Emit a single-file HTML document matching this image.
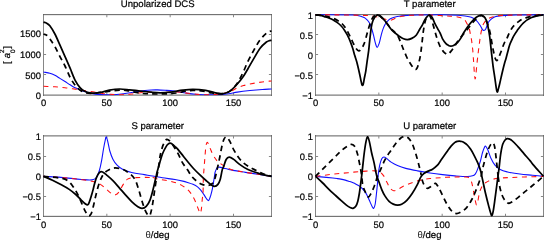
<!DOCTYPE html>
<html lang="en"><head><meta charset="utf-8"><title>Scattering parameters</title>
<style>html,body{margin:0;padding:0;background:#fff;overflow:hidden}svg{display:block}</style>
</head><body>
<svg width="544" height="240" viewBox="0 0 544 240">
<rect width="544" height="240" fill="#fff"/>
<defs>
<clipPath id="c1"><rect x="43.00" y="14.00" width="229.00" height="81.50"/></clipPath>
<clipPath id="c2"><rect x="315.00" y="14.00" width="229.00" height="81.50"/></clipPath>
<clipPath id="c3"><rect x="43.00" y="136.00" width="229.00" height="81.50"/></clipPath>
<clipPath id="c4"><rect x="315.00" y="136.00" width="229.00" height="81.50"/></clipPath>
</defs>
<g stroke="#868686" stroke-width="1" fill="none">
<path d="M43.50 14.15V95.60M271.50 14.15V95.60" shape-rendering="crispEdges"/>
<path d="M43.00 14.65H272.00M43.00 95.10H272.00" stroke="#5c5c5c"/>
</g>
<g stroke="#868686" stroke-width="1" fill="none">
<path d="M106.83 14.65v2.6M106.83 95.10v-2.6"/>
<path d="M170.17 14.65v2.6M170.17 95.10v-2.6"/>
<path d="M233.50 14.65v2.6M233.50 95.10v-2.6"/>
<path d="M43.50 74.50h2.6M271.50 74.50h-2.6"/>
<path d="M43.50 54.50h2.6M271.50 54.50h-2.6"/>
<path d="M43.50 34.50h2.6M271.50 34.50h-2.6"/>
</g>
<g stroke="#868686" stroke-width="1" fill="none">
<path d="M315.50 14.15V95.60M543.50 14.15V95.60" shape-rendering="crispEdges"/>
<path d="M315.00 14.65H544.00M315.00 95.10H544.00" stroke="#5c5c5c"/>
</g>
<g stroke="#868686" stroke-width="1" fill="none">
<path d="M378.83 14.65v2.6M378.83 95.10v-2.6"/>
<path d="M442.17 14.65v2.6M442.17 95.10v-2.6"/>
<path d="M505.50 14.65v2.6M505.50 95.10v-2.6"/>
<path d="M315.50 74.50h2.6M543.50 74.50h-2.6"/>
<path d="M315.50 54.50h2.6M543.50 54.50h-2.6"/>
<path d="M315.50 34.50h2.6M543.50 34.50h-2.6"/>
</g>
<g stroke="#868686" stroke-width="1" fill="none">
<path d="M43.50 135.40V216.85M271.50 135.40V216.85" shape-rendering="crispEdges"/>
<path d="M43.00 135.90H272.00M43.00 216.35H272.00" stroke="#5c5c5c"/>
</g>
<g stroke="#868686" stroke-width="1" fill="none">
<path d="M106.83 135.90v2.6M106.83 216.35v-2.6"/>
<path d="M170.17 135.90v2.6M170.17 216.35v-2.6"/>
<path d="M233.50 135.90v2.6M233.50 216.35v-2.6"/>
<path d="M43.50 196.50h2.6M271.50 196.50h-2.6"/>
<path d="M43.50 176.50h2.6M271.50 176.50h-2.6"/>
<path d="M43.50 156.50h2.6M271.50 156.50h-2.6"/>
</g>
<g stroke="#868686" stroke-width="1" fill="none">
<path d="M315.50 135.40V216.85M543.50 135.40V216.85" shape-rendering="crispEdges"/>
<path d="M315.00 135.90H544.00M315.00 216.35H544.00" stroke="#5c5c5c"/>
</g>
<g stroke="#868686" stroke-width="1" fill="none">
<path d="M378.83 135.90v2.6M378.83 216.35v-2.6"/>
<path d="M442.17 135.90v2.6M442.17 216.35v-2.6"/>
<path d="M505.50 135.90v2.6M505.50 216.35v-2.6"/>
<path d="M315.50 196.50h2.6M543.50 196.50h-2.6"/>
<path d="M315.50 176.50h2.6M543.50 176.50h-2.6"/>
<path d="M315.50 156.50h2.6M543.50 156.50h-2.6"/>
</g>
<g clip-path="url(#c1)" fill="none" stroke-linejoin="round">
<path d="M43.50 72.04 C45.61 72.43 47.72 72.59 49.83 73.20 C51.52 73.69 53.21 74.45 54.90 75.32 C56.59 76.19 58.28 77.36 59.97 78.40 C61.66 79.44 63.34 80.49 65.03 81.56 C66.72 82.63 68.41 83.76 70.10 84.80 C71.79 85.84 73.48 86.95 75.17 87.80 C76.86 88.65 78.54 89.27 80.23 89.92 C81.92 90.57 83.61 91.15 85.30 91.68 C86.99 92.21 88.68 92.71 90.37 93.12 C92.06 93.53 93.74 93.87 95.43 94.12 C97.12 94.37 98.81 94.54 100.50 94.64 C102.61 94.77 104.72 94.79 106.83 94.80 C108.94 94.81 111.06 94.78 113.17 94.68 C115.28 94.58 117.39 94.43 119.50 94.20 C122.46 93.87 125.41 93.44 128.37 93.00 C131.32 92.56 134.28 92.01 137.23 91.56 C139.77 91.17 142.30 90.76 144.83 90.48 C146.94 90.24 149.06 90.09 151.17 90.00 C153.28 89.91 155.39 89.87 157.50 89.92 C160.03 89.98 162.57 90.15 165.10 90.32 C167.63 90.49 170.17 90.61 172.70 90.92 C175.23 91.23 177.77 91.79 180.30 92.20 C182.83 92.61 185.37 93.06 187.90 93.40 C190.43 93.74 192.97 94.03 195.50 94.24 C198.03 94.45 200.57 94.57 203.10 94.68 C204.79 94.75 206.48 94.78 208.17 94.80 C210.28 94.82 212.39 94.83 214.50 94.80 C216.61 94.77 218.72 94.75 220.83 94.60 C223.37 94.42 225.90 94.18 228.43 93.80 C231.39 93.36 234.34 92.60 237.30 92.16 C241.52 91.52 245.74 91.02 249.97 90.56 C254.06 90.11 258.16 89.73 262.25 89.44 C265.34 89.22 268.42 89.17 271.50 89.04" stroke="#1010ff" stroke-width="1.1"/>
<path d="M43.50 86.32 C47.30 86.48 51.10 86.55 54.90 86.80 C58.28 87.02 61.66 87.34 65.03 87.72 C67.57 88.01 70.10 88.43 72.63 88.80 C76.86 89.42 81.08 90.05 85.30 90.68 C87.83 91.06 90.37 91.43 92.90 91.84 C96.11 92.35 99.32 92.99 102.53 93.44 C105.23 93.82 107.93 94.10 110.63 94.32 C112.74 94.50 114.86 94.57 116.97 94.64 C118.66 94.69 120.34 94.71 122.03 94.68 C123.72 94.65 125.41 94.61 127.10 94.48 C128.66 94.36 130.22 94.13 131.79 93.92 C133.18 93.73 134.57 93.47 135.97 93.28 C137.44 93.07 138.92 92.87 140.40 92.72 C141.88 92.57 143.36 92.47 144.83 92.40 C146.94 92.31 149.06 92.22 151.17 92.24 C154.12 92.27 157.08 92.53 160.03 92.56 C162.14 92.58 164.26 92.48 166.37 92.40 C168.48 92.32 170.59 92.17 172.70 92.08 C174.39 92.01 176.08 91.90 177.77 91.92 C178.95 91.94 180.13 92.04 181.31 92.20 C183.51 92.49 185.70 92.97 187.90 93.28 C189.42 93.49 190.94 93.59 192.46 93.76 C194.32 93.97 196.18 94.24 198.03 94.40 C199.72 94.55 201.41 94.60 203.10 94.68 C204.37 94.74 205.63 94.81 206.90 94.80 C208.59 94.79 210.28 94.73 211.97 94.64 C213.66 94.55 215.34 94.42 217.03 94.24 C219.14 94.02 221.26 93.90 223.37 93.44 C225.90 92.89 228.43 92.23 230.97 91.20 C233.08 90.35 235.19 88.73 237.30 87.80 C239.41 86.87 241.52 86.23 243.63 85.60 C245.74 84.97 247.86 84.46 249.97 84.04 C254.06 83.23 258.16 82.51 262.25 81.92 C265.34 81.47 268.42 81.25 271.50 80.92" stroke="#ff1010" stroke-width="1.08" stroke-dasharray="4.9 4.6"/>
<path d="M43.50 22.20 C44.56 22.53 45.61 22.60 46.67 23.20 C47.72 23.80 48.78 24.42 49.83 25.80 C51.52 28.02 53.21 30.77 54.90 34.00 C56.59 37.23 58.28 41.43 59.97 45.20 C61.66 48.97 63.34 52.77 65.03 56.60 C66.72 60.43 68.41 64.25 70.10 68.20 C71.79 72.15 73.48 77.05 75.17 80.32 C76.86 83.59 78.54 85.93 80.23 87.80 C81.92 89.67 83.61 90.69 85.30 91.56 C86.99 92.43 88.68 92.69 90.37 93.00 C91.63 93.23 92.90 93.28 94.17 93.20 C96.28 93.08 98.39 92.82 100.50 92.40 C103.46 91.82 106.41 90.73 109.37 90.20 C112.74 89.60 116.12 89.07 119.50 89.00 C122.88 88.93 126.26 89.48 129.63 89.80 C132.59 90.08 135.54 90.47 138.50 90.80 C142.72 91.27 146.94 91.81 151.17 92.20 C154.12 92.47 157.08 92.80 160.03 92.80 C163.41 92.80 166.79 92.59 170.17 92.20 C174.39 91.72 178.61 90.72 182.83 90.20 C186.21 89.79 189.59 89.37 192.97 89.40 C197.19 89.44 201.41 89.77 205.63 90.40 C208.59 90.84 211.54 91.96 214.50 92.60 C216.61 93.06 218.72 93.61 220.83 93.68 C222.52 93.74 224.21 93.56 225.90 93.00 C227.59 92.44 229.28 91.65 230.97 90.32 C233.08 88.66 235.19 86.43 237.30 84.04 C239.41 81.65 241.52 79.02 243.63 76.00 C244.98 74.07 246.34 71.52 247.69 69.20 C249.71 65.72 251.74 62.03 253.77 58.60 C255.88 55.03 257.99 50.97 260.10 48.20 C262.21 45.43 264.32 43.69 266.43 42.00 C267.49 41.16 268.54 40.95 269.60 40.60 C270.23 40.39 270.87 40.41 271.50 40.32" stroke="#000" stroke-width="1.74"/>
<path d="M43.50 34.00 C44.56 34.40 45.61 34.37 46.67 35.20 C47.72 36.03 48.78 37.54 49.83 39.00 C51.52 41.34 53.21 43.67 54.90 46.60 C56.59 49.53 58.28 53.37 59.97 56.60 C61.66 59.83 63.34 62.55 65.03 66.00 C66.72 69.45 68.41 74.10 70.10 77.32 C71.79 80.54 73.48 83.15 75.17 85.32 C76.86 87.49 78.54 89.11 80.23 90.32 C81.92 91.53 83.61 92.10 85.30 92.60 C86.99 93.10 88.68 93.26 90.37 93.32 C92.48 93.39 94.59 93.22 96.70 93.00 C100.08 92.65 103.46 92.03 106.83 91.60 C111.06 91.06 115.28 90.29 119.50 90.08 C122.03 89.95 124.57 90.24 127.10 90.60 C130.90 91.14 134.70 92.27 138.50 92.80 C142.30 93.33 146.10 93.63 149.90 93.80 C154.54 94.01 159.19 94.06 163.83 93.92 C168.06 93.79 172.28 93.53 176.50 93.00 C179.46 92.63 182.41 91.68 185.37 91.20 C187.90 90.79 190.43 90.32 192.97 90.32 C196.34 90.32 199.72 90.72 203.10 91.20 C206.06 91.62 209.01 92.57 211.97 93.00 C214.92 93.43 217.88 93.88 220.83 93.80" stroke="#000" stroke-width="1.74" stroke-dasharray="5.4 4.1" stroke-dashoffset="1.2"/>
<path d="M220.83 93.80 C222.94 93.74 225.06 93.31 227.17 92.60 C228.43 92.17 229.70 91.57 230.97 90.40 C233.08 88.44 235.19 86.40 237.30 83.20 C239.41 80.00 241.52 75.55 243.63 71.20 C244.98 68.42 246.34 64.58 247.69 61.80 C249.71 57.62 251.74 53.90 253.77 50.32 C255.88 46.59 257.99 42.73 260.10 39.88 C262.21 37.03 264.32 35.08 266.43 33.20 C267.49 32.26 268.54 31.83 269.60 31.40 C270.23 31.14 270.87 31.21 271.50 31.12" stroke="#000" stroke-width="1.74" stroke-dasharray="5.4 4.1" stroke-dashoffset="3.0"/>
</g>
<g clip-path="url(#c2)" fill="none" stroke-linejoin="round">
<path d="M315.50 14.80 C328.17 14.87 340.83 14.66 353.50 15.00 C355.61 15.06 357.72 15.48 359.83 16.00 C361.27 16.35 362.70 16.86 364.14 17.60 C365.03 18.06 365.91 18.71 366.80 19.60 C367.64 20.45 368.49 21.29 369.33 22.80 C370.05 24.09 370.77 25.87 371.49 28.00 C372.16 30.00 372.84 32.60 373.51 35.20 C374.19 37.80 374.86 41.36 375.54 43.60 C376.09 45.42 376.64 47.40 377.19 47.40 C377.82 47.40 378.45 45.32 379.09 43.60 C379.51 42.45 379.93 40.45 380.35 38.80 C380.82 36.98 381.28 34.86 381.75 33.20 C382.25 31.39 382.76 29.74 383.27 28.40 C383.82 26.94 384.36 25.79 384.91 24.80 C385.55 23.66 386.18 22.79 386.81 22.00 C387.57 21.05 388.33 20.17 389.09 19.60 C390.11 18.84 391.12 18.42 392.13 18.00 C393.19 17.56 394.24 17.27 395.30 17.00 C396.57 16.67 397.83 16.41 399.10 16.20 C400.62 15.95 402.14 15.70 403.66 15.60 C408.05 15.30 412.44 15.09 416.83 15.00 C425.28 14.82 433.72 14.76 442.17 14.80 C447.23 14.82 452.30 14.93 457.37 15.20 C459.90 15.33 462.43 15.64 464.97 16.00 C467.08 16.30 469.19 16.38 471.30 17.20 C472.95 17.84 474.59 18.89 476.24 20.40 C477.51 21.56 478.77 23.32 480.04 25.20 C480.84 26.39 481.64 28.46 482.45 29.60 C482.87 30.20 483.29 30.45 483.71 30.40 C484.35 30.32 484.98 30.29 485.61 29.20 C486.46 27.75 487.30 24.32 488.15 22.80 C489.16 20.98 490.17 20.09 491.19 19.20 C492.45 18.09 493.72 17.26 494.99 16.80 C497.06 16.06 499.12 15.76 501.19 15.60 C506.85 15.16 512.51 15.11 518.17 15.00 C526.61 14.84 535.06 14.87 543.50 14.80" stroke="#1010ff" stroke-width="1.1"/>
<path d="M315.50 14.80 C323.94 14.84 332.39 14.85 340.83 14.92 C345.06 14.96 349.28 15.03 353.50 15.12 C357.72 15.21 361.94 15.28 366.17 15.48 C368.28 15.58 370.39 15.69 372.50 16.00 C374.61 16.31 376.72 16.84 378.83 17.36 C380.52 17.77 382.21 18.28 383.90 18.80 C385.17 19.19 386.43 19.76 387.70 20.08 C388.42 20.26 389.14 20.34 389.85 20.32 C390.40 20.31 390.95 20.18 391.50 20.00 C392.34 19.72 393.19 19.28 394.03 18.92 C395.30 18.38 396.57 17.68 397.83 17.32 C399.94 16.71 402.06 16.30 404.17 16.00 C406.70 15.64 409.23 15.45 411.77 15.32 C415.57 15.12 419.37 15.01 423.17 15.00 C427.39 14.99 431.61 15.11 435.83 15.28 C439.72 15.44 443.60 15.67 447.49 16.00 C451.24 16.31 455.00 16.40 458.76 17.20 C460.62 17.60 462.48 18.18 464.33 19.60 C465.18 20.25 466.02 21.80 466.87 23.40 C467.71 25.00 468.56 26.49 469.40 29.20 C469.78 30.42 470.16 33.36 470.54 35.20 C470.79 36.43 471.05 36.67 471.30 38.40 C471.81 41.87 472.31 45.58 472.82 50.80 C473.12 53.85 473.41 58.92 473.71 63.20 C473.92 66.26 474.13 70.44 474.34 72.80 C474.59 75.64 474.85 78.47 475.10 78.80 C475.35 79.13 475.61 76.86 475.86 74.80 C476.20 72.06 476.54 67.60 476.87 64.40 C477.30 60.40 477.72 56.68 478.14 53.20 C478.69 48.68 479.24 44.51 479.79 40.40 C480.04 38.51 480.29 36.53 480.55 35.20 C481.18 31.87 481.81 28.34 482.45 26.40 C483.29 23.81 484.14 22.97 484.98 21.60 C485.61 20.57 486.25 19.57 486.88 19.20 C489.16 17.89 491.44 17.25 493.72 16.56 C495.41 16.05 497.10 15.71 498.79 15.60 C505.25 15.19 511.71 15.12 518.17 15.00 C526.61 14.85 535.06 14.87 543.50 14.80" stroke="#ff1010" stroke-width="1.08" stroke-dasharray="4.9 4.6"/>
<path d="M315.50 14.80 C317.19 15.00 318.88 15.06 320.57 15.40 C321.83 15.65 323.10 16.16 324.37 16.56 C325.84 17.03 327.32 17.46 328.80 18.00 C330.15 18.50 331.50 18.96 332.85 19.68 C334.25 20.42 335.64 21.35 337.03 22.40 C338.43 23.45 339.82 24.53 341.21 26.00 C342.35 27.20 343.49 28.71 344.63 30.40 C345.56 31.78 346.49 33.37 347.42 35.20 C348.39 37.11 349.36 39.18 350.33 41.60 C351.18 43.71 352.02 46.13 352.87 48.80 C353.50 50.80 354.13 53.47 354.77 55.60 C355.44 57.87 356.12 59.46 356.79 62.00 C357.68 65.33 358.57 69.25 359.45 73.20 C360.00 75.65 360.55 78.65 361.10 81.20 C361.35 82.38 361.61 83.64 361.86 84.40 C362.07 85.04 362.28 85.40 362.49 85.40 C362.70 85.40 362.92 85.03 363.13 84.40 C363.34 83.77 363.55 82.67 363.76 81.60 C363.97 80.53 364.18 79.08 364.39 78.00 C364.86 75.62 365.32 74.07 365.79 71.20 C366.25 68.33 366.72 64.12 367.18 60.80 C367.69 57.18 368.19 54.44 368.70 50.40 C369.00 48.04 369.29 44.22 369.59 41.60 C370.18 36.36 370.77 30.53 371.36 26.80 C371.87 23.60 372.37 22.27 372.88 20.80 C373.43 19.21 373.98 18.43 374.53 17.60 C375.12 16.70 375.71 16.02 376.30 15.60 C376.93 15.15 377.57 14.93 378.20 15.00 C378.83 15.07 379.47 15.45 380.10 16.00 C381.70 17.39 383.31 18.88 384.91 20.80 C386.98 23.28 389.05 26.73 391.12 29.20 C392.51 30.86 393.91 32.00 395.30 33.20 C396.69 34.40 398.09 35.45 399.48 36.40 C400.83 37.32 402.18 38.26 403.53 38.80 C404.84 39.32 406.15 39.66 407.46 39.60 C408.90 39.53 410.33 39.12 411.77 38.40 C413.24 37.66 414.72 36.92 416.20 35.20 C417.47 33.72 418.73 30.92 420.00 28.80 C420.80 27.46 421.60 26.29 422.41 24.80 C423.25 23.23 424.10 21.08 424.94 19.60 C425.62 18.41 426.29 17.48 426.97 16.80 C427.81 15.95 428.66 14.93 429.50 15.00 C430.34 15.07 431.19 15.90 432.03 17.20 C432.88 18.50 433.72 21.08 434.57 22.80 C435.62 24.95 436.68 26.86 437.73 28.80 C438.49 30.20 439.25 31.22 440.01 32.80 C440.86 34.55 441.70 37.27 442.55 38.80 C443.69 40.87 444.83 42.34 445.97 43.60 C446.81 44.54 447.66 44.96 448.50 45.40 C449.26 45.80 450.02 46.12 450.78 46.12 C451.71 46.12 452.64 45.89 453.57 45.40 C454.88 44.71 456.18 43.94 457.49 42.60 C458.72 41.34 459.94 39.53 461.17 37.60 C462.01 36.27 462.86 34.17 463.70 32.80 C465.39 30.07 467.08 27.53 468.77 25.30 C470.41 23.13 472.06 21.25 473.71 19.60 C474.97 18.33 476.24 17.27 477.51 16.56 C478.73 15.87 479.96 15.43 481.18 15.40 C481.90 15.38 482.62 15.95 483.33 16.40 C483.88 16.75 484.43 16.88 484.98 17.80 C485.70 19.01 486.42 20.34 487.13 22.80 C487.68 24.68 488.23 27.85 488.78 30.80 C489.08 32.39 489.37 34.25 489.67 36.40 C489.92 38.25 490.17 40.52 490.43 42.80 C490.72 45.46 491.02 48.53 491.31 51.20 C491.61 53.87 491.90 56.28 492.20 58.80 C492.50 61.32 492.79 64.18 493.09 66.30 C493.72 70.85 494.35 74.45 494.99 78.80 C495.37 81.41 495.75 84.63 496.13 87.20 C496.34 88.63 496.55 89.91 496.76 90.80 C496.93 91.51 497.10 91.93 497.27 92.00 C497.44 92.07 497.60 91.68 497.77 91.20 C498.03 90.48 498.28 89.40 498.53 88.40 C498.96 86.73 499.38 85.00 499.80 83.20 C500.22 81.40 500.64 79.43 501.07 77.60 C501.66 75.03 502.25 72.42 502.84 70.00 C503.39 67.75 503.94 65.61 504.49 63.60 C504.99 61.74 505.50 60.24 506.01 58.40 C506.64 56.10 507.27 53.56 507.91 51.20 C508.46 49.16 509.00 46.81 509.55 45.20 C510.23 43.21 510.90 41.91 511.58 40.40 C512.21 38.98 512.85 37.51 513.48 36.40 C514.75 34.18 516.01 32.12 517.28 30.40 C519.35 27.59 521.42 24.71 523.49 22.80 C525.98 20.51 528.47 19.00 530.96 17.80 C533.45 16.60 535.94 16.20 538.43 15.60 C540.12 15.20 541.81 15.07 543.50 14.80" stroke="#000" stroke-width="1.74"/>
<path d="M315.50 14.80 C318.46 15.17 321.41 15.34 324.37 15.92 C327.20 16.47 330.02 17.17 332.85 18.20 C334.67 18.86 336.48 19.81 338.30 21.00 C339.95 22.08 341.59 23.28 343.24 25.00 C344.34 26.15 345.44 27.80 346.53 29.60 C347.50 31.20 348.48 33.28 349.45 35.20 C350.16 36.62 350.88 38.09 351.60 39.60 C352.28 41.02 352.95 42.66 353.63 44.00 C354.43 45.59 355.23 47.35 356.03 48.40 C356.96 49.62 357.89 50.73 358.82 50.80 C359.71 50.87 360.59 50.00 361.48 48.80 C362.37 47.60 363.25 45.72 364.14 43.60 C364.65 42.39 365.15 40.53 365.66 38.80 C366.17 37.07 366.67 35.00 367.18 33.20 C367.69 31.40 368.19 29.66 368.70 28.00 C369.25 26.20 369.80 24.33 370.35 22.80 C370.85 21.39 371.36 20.20 371.87 19.20 C372.42 18.12 372.96 17.14 373.51 16.56 C374.23 15.80 374.95 15.51 375.67 15.20 C376.30 14.93 376.93 14.69 377.57 14.80 C378.41 14.95 379.26 15.31 380.10 16.00 C381.70 17.31 383.31 18.94 384.91 20.80 C386.98 23.20 389.05 26.42 391.12 28.80 C392.30 30.16 393.48 30.81 394.67 32.00 C395.60 32.94 396.52 33.64 397.45 35.20 C398.42 36.84 399.40 39.28 400.37 41.60 C401.46 44.22 402.56 47.31 403.66 50.00 C404.36 51.71 405.05 53.20 405.75 54.80 C406.45 56.40 407.14 58.25 407.84 59.60 C408.52 60.91 409.19 61.79 409.87 62.80 C410.92 64.39 411.98 66.16 413.03 67.40 C413.88 68.39 414.72 69.35 415.57 69.48 C416.07 69.55 416.58 68.89 417.09 68.00 C417.47 67.33 417.85 66.16 418.23 64.80 C418.82 62.69 419.41 60.44 420.00 57.60 C420.30 56.18 420.59 54.20 420.89 52.00 C421.31 48.86 421.73 45.23 422.15 41.60 C422.49 38.70 422.83 34.79 423.17 32.40 C423.72 28.52 424.26 25.30 424.81 22.80 C425.32 20.50 425.83 18.98 426.33 18.00 C427.14 16.45 427.94 15.27 428.74 15.20 C429.42 15.14 430.09 16.25 430.77 17.60 C431.36 18.78 431.95 20.87 432.54 22.80 C433.22 25.00 433.89 27.64 434.57 30.00 C435.28 32.51 436.00 35.13 436.72 37.40 C437.40 39.53 438.07 41.47 438.75 43.20 C439.42 44.93 440.10 46.59 440.77 47.80 C441.66 49.39 442.55 50.58 443.43 51.60 C444.28 52.58 445.12 53.27 445.97 53.80 C446.60 54.20 447.23 54.74 447.87 54.40 C449.01 53.78 450.15 52.29 451.29 50.92 C452.26 49.75 453.23 48.26 454.20 46.80 C455.30 45.15 456.40 43.16 457.49 41.60 C458.93 39.56 460.36 37.79 461.80 36.00 C463.15 34.32 464.50 32.84 465.85 31.20 C467.25 29.51 468.64 27.73 470.03 26.00 C471.43 24.27 472.82 22.36 474.21 20.80 C475.56 19.29 476.92 17.81 478.27 16.80 C479.32 16.01 480.38 15.40 481.43 15.40 C482.28 15.40 483.12 15.79 483.97 16.80 C484.85 17.86 485.74 19.57 486.63 21.60 C487.43 23.44 488.23 25.57 489.03 28.40 C489.67 30.64 490.30 33.60 490.93 36.80 C491.14 37.87 491.36 39.99 491.57 41.20 C492.20 44.83 492.83 48.37 493.47 51.30 C494.10 54.23 494.73 56.92 495.37 58.80 C495.79 60.05 496.21 60.68 496.63 60.68 C497.14 60.68 497.65 59.74 498.15 58.80 C498.70 57.78 499.25 56.16 499.80 54.80 C500.43 53.23 501.07 51.68 501.70 50.00 C502.29 48.43 502.88 46.53 503.47 45.04 C504.15 43.33 504.82 41.72 505.50 40.40 C506.09 39.24 506.68 38.80 507.27 37.60 C508.03 36.06 508.79 33.71 509.55 32.20 C510.44 30.44 511.33 29.06 512.21 27.80 C513.06 26.60 513.90 25.63 514.75 24.80 C516.01 23.56 517.28 22.57 518.55 21.60 C519.73 20.70 520.91 19.80 522.09 19.20 C523.40 18.53 524.71 18.21 526.02 17.80 C528.09 17.15 530.16 16.43 532.23 16.00 C534.30 15.57 536.36 15.42 538.43 15.20 C540.12 15.02 541.81 14.93 543.50 14.80" stroke="#000" stroke-width="1.74" stroke-dasharray="5.4 4.1"/>
</g>
<g clip-path="url(#c3)" fill="none" stroke-linejoin="round">
<path d="M43.50 176.35 C49.28 176.68 55.07 176.88 60.85 177.35 C67.78 177.91 74.70 178.87 81.63 179.43 C85.09 179.71 88.55 180.25 92.01 179.85 C93.41 179.69 94.80 179.53 96.19 177.75 C97.25 176.40 98.30 173.76 99.36 170.47 C100.08 168.23 100.80 164.88 101.51 161.15 C102.19 157.64 102.86 152.58 103.54 148.75 C104.09 145.64 104.64 142.83 105.19 140.35 C105.52 138.83 105.86 136.62 106.20 136.75 C106.71 136.95 107.21 139.35 107.72 141.35 C108.40 144.02 109.07 148.43 109.75 150.75 C110.80 154.37 111.86 157.08 112.91 159.15 C114.31 161.88 115.70 163.71 117.09 165.15 C119.16 167.28 121.23 168.80 123.30 169.85 C126.09 171.27 128.87 171.91 131.66 172.55 C135.84 173.51 140.02 173.95 144.20 174.63 C146.94 175.08 149.69 175.48 152.43 175.95 C155.77 176.52 159.10 177.22 162.44 177.75 C166.62 178.42 170.80 178.85 174.98 179.55 C177.60 179.99 180.22 180.54 182.83 181.15 C184.40 181.51 185.96 181.98 187.52 182.47 C189.34 183.04 191.15 183.56 192.97 184.35 C194.49 185.02 196.01 185.73 197.53 186.85 C198.54 187.60 199.55 188.73 200.57 189.95 C201.62 191.23 202.68 192.80 203.73 194.35 C204.49 195.47 205.25 196.79 206.01 197.95 C206.48 198.66 206.94 199.47 207.41 199.95 C207.79 200.34 208.17 200.70 208.55 200.55 C208.84 200.43 209.14 199.82 209.43 199.15 C209.81 198.29 210.19 197.30 210.57 195.95 C211.21 193.70 211.84 191.55 212.47 188.35 C213.15 184.94 213.82 180.32 214.50 176.11 C214.67 175.06 214.84 173.02 215.01 172.55 C215.89 170.10 216.78 167.70 217.67 167.35 C220.12 166.37 222.56 168.07 225.01 168.55 C227.67 169.07 230.33 169.86 232.99 170.35 C237.17 171.12 241.35 171.69 245.53 172.35 C249.67 173.00 253.81 173.63 257.95 174.27 C262.46 174.97 266.98 175.66 271.50 176.35" stroke="#1010ff" stroke-width="1.1"/>
<path d="M43.50 176.35 C49.28 176.75 55.07 177.05 60.85 177.55 C67.78 178.15 74.70 178.79 81.63 179.63 C85.09 180.05 88.55 180.44 92.01 181.31 C94.80 182.01 97.59 182.79 100.37 184.35 C102.48 185.53 104.60 187.82 106.71 189.55 C108.44 190.97 110.17 192.76 111.90 193.81 C113.08 194.53 114.26 195.19 115.45 194.85 C116.67 194.49 117.90 193.35 119.12 191.71 C120.51 189.85 121.91 186.44 123.30 184.35 C124.69 182.26 126.09 180.03 127.48 179.15 C129.57 177.83 131.66 177.88 133.75 177.75 C139.98 177.35 146.21 177.20 152.43 177.55" stroke="#ff1010" stroke-width="1.08" stroke-dasharray="4.9 4.6"/>
<path d="M152.43 177.55 C154.42 177.66 156.40 178.74 158.39 179.15 C162.52 180.00 166.66 180.23 170.80 181.31 C174.30 182.23 177.81 183.24 181.31 185.15 C184.06 186.65 186.80 188.52 189.55 191.55 C191.24 193.42 192.92 196.51 194.61 199.85 C195.80 202.19 196.98 205.83 198.16 208.59 C198.88 210.26 199.60 213.15 200.31 213.15 C200.69 213.15 201.07 211.25 201.45 208.59 C201.71 206.82 201.96 202.53 202.21 199.85 C202.51 196.72 202.80 197.30 203.10 191.15 C203.18 189.39 203.27 178.62 203.35 176.11 C203.48 172.35 203.61 173.85 203.73 172.35 C204.03 168.86 204.32 164.69 204.62 161.15 C205.04 156.09 205.46 149.53 205.89 146.55 C206.35 143.27 206.82 142.35 207.28 142.35 C208.00 142.35 208.72 144.96 209.43 146.55 C210.45 148.79 211.46 151.91 212.47 153.85 C213.87 156.51 215.26 158.66 216.65 160.35 C217.92 161.89 219.19 162.59 220.45 163.55 C221.72 164.51 222.99 165.31 224.25 166.11 C225.52 166.91 226.79 167.76 228.05 168.35 C229.70 169.11 231.35 169.77 232.99 170.15 C237.17 171.11 241.35 171.66 245.53 172.35 C249.67 173.03 253.81 173.63 257.95 174.27 C262.46 174.97 266.98 175.66 271.50 176.35" stroke="#ff1010" stroke-width="1.08" stroke-dasharray="4.9 4.6" stroke-dashoffset="123.26"/>
<path d="M43.50 176.35 C46.50 177.66 49.50 178.85 52.49 180.27 C55.28 181.59 58.07 183.04 60.85 184.55 C63.64 186.06 66.43 187.48 69.21 189.35 C71.49 190.88 73.77 192.74 76.05 194.75 C77.70 196.20 79.35 198.12 80.99 199.75 C82.39 201.12 83.78 202.57 85.17 203.75 C85.72 204.21 86.27 204.45 86.82 204.67 C87.12 204.79 87.41 204.87 87.71 204.75 C88.00 204.63 88.30 204.55 88.59 203.95 C89.10 202.92 89.61 201.39 90.11 199.85 C90.70 198.06 91.30 195.98 91.89 193.95 C92.27 192.65 92.65 191.29 93.03 189.85 C93.49 188.09 93.96 186.02 94.42 184.35 C95.10 181.92 95.77 179.16 96.45 177.55 C97.42 175.23 98.39 173.44 99.36 172.55 C100.42 171.58 101.47 171.58 102.53 171.95 C103.92 172.44 105.31 173.98 106.71 175.15 C108.78 176.89 110.84 178.60 112.91 180.67 C114.98 182.74 117.05 185.21 119.12 187.55 C121.23 189.94 123.34 192.49 125.45 194.85 C127.52 197.16 129.59 199.57 131.66 201.55 C133.73 203.53 135.80 205.40 137.87 206.75 C139.26 207.66 140.65 208.42 142.05 208.35 C143.44 208.28 144.83 207.77 146.23 206.35 C147.45 205.10 148.68 203.36 149.90 200.35 C150.96 197.76 152.01 193.59 153.07 189.55 C154.00 185.99 154.92 181.55 155.85 177.55 C156.32 175.55 156.78 173.33 157.25 171.55 C157.96 168.80 158.68 166.38 159.40 163.95 C160.41 160.52 161.43 156.56 162.44 153.95 C163.71 150.69 164.97 148.48 166.24 146.35 C166.96 145.14 167.68 144.54 168.39 143.95 C168.94 143.50 169.49 143.23 170.04 143.23 C170.72 143.23 171.39 143.50 172.07 143.95 C173.04 144.60 174.01 145.68 174.98 146.55 C175.82 147.31 176.67 147.86 177.51 148.85 C179.58 151.26 181.65 154.16 183.72 156.75 C185.41 158.86 187.10 160.92 188.79 162.95 C190.43 164.92 192.08 166.98 193.73 168.75 C195.80 170.98 197.86 172.97 199.93 174.95 C202.04 176.97 204.16 178.92 206.27 180.75 C208.00 182.25 209.73 183.76 211.46 184.95 C212.47 185.65 213.49 186.52 214.50 186.43 C215.64 186.32 216.78 185.73 217.92 184.35 C218.68 183.43 219.44 182.11 220.20 179.55 C220.88 177.28 221.55 172.52 222.23 169.85 C222.56 168.52 222.90 168.44 223.24 167.55 C224.21 165.00 225.18 161.23 226.15 159.55 C227.17 157.79 228.18 157.29 229.19 157.23 C230.59 157.15 231.98 158.19 233.37 159.15 C235.44 160.57 237.51 162.87 239.58 164.35 C242.37 166.34 245.15 168.18 247.94 169.55 C250.73 170.92 253.51 171.58 256.30 172.55 C258.37 173.27 260.44 174.11 262.51 174.63 C265.50 175.38 268.50 175.78 271.50 176.35" stroke="#000" stroke-width="1.74"/>
<path d="M43.50 176.35 C49.28 176.96 55.07 177.23 60.85 178.19 C62.92 178.53 64.99 178.95 67.06 180.27 C68.79 181.38 70.52 183.21 72.25 185.47 C73.98 187.73 75.72 190.54 77.45 193.81 C78.84 196.44 80.23 200.01 81.63 203.15 C82.68 205.53 83.74 208.37 84.79 210.35 C85.98 212.57 87.16 215.16 88.34 215.75 C89.31 216.23 90.28 215.46 91.25 213.55 C92.01 212.06 92.77 208.53 93.53 205.55 C94.17 203.07 94.80 199.82 95.43 197.15 C96.07 194.48 96.70 191.88 97.33 189.55 C97.97 187.22 98.60 185.02 99.23 183.15 C99.87 181.28 100.50 179.64 101.13 178.35 C102.10 176.37 103.08 174.40 104.05 173.35 C105.74 171.53 107.42 170.59 109.11 169.75 C111.06 168.79 113.00 167.98 114.94 167.95 C117.73 167.91 120.51 168.49 123.30 169.55 C125.41 170.35 127.52 172.02 129.63 173.55 C130.65 174.29 131.66 175.08 132.67 176.35 C133.73 177.67 134.78 178.92 135.84 181.31 C136.90 183.70 137.95 187.30 139.01 190.67 C140.02 193.91 141.03 197.94 142.05 201.15 C143.10 204.50 144.16 207.83 145.21 210.35 C146.14 212.57 147.07 214.11 148.00 215.35 C148.42 215.91 148.84 215.90 149.27 215.75 C149.60 215.63 149.94 215.68 150.28 214.55 C151.00 212.15 151.72 209.13 152.43 205.15 C153.15 201.17 153.87 195.44 154.59 190.67 C155.22 186.46 155.85 181.95 156.49 178.19 C157.16 174.18 157.84 171.51 158.51 167.35 C159.02 164.23 159.53 159.25 160.03 156.35 C160.54 153.45 161.05 151.82 161.55 149.95 C162.06 148.08 162.57 146.50 163.07 145.15 C163.66 143.57 164.26 142.05 164.85 141.15 C165.52 140.12 166.20 139.48 166.87 139.35 C167.55 139.22 168.22 139.90 168.90 140.35 C169.53 140.77 170.17 141.16 170.80 141.95 C171.77 143.16 172.74 144.81 173.71 146.35 C174.98 148.36 176.25 150.24 177.51 152.59 C179.16 155.65 180.81 159.75 182.45 162.59 C184.14 165.50 185.83 167.34 187.52 169.85 C188.91 171.92 190.31 174.65 191.70 176.35 C193.43 178.47 195.16 179.98 196.89 181.31 C198.62 182.64 200.36 183.72 202.09 184.35 C204.16 185.10 206.22 185.66 208.29 185.47 C209.69 185.34 211.08 184.90 212.47 183.39 C213.32 182.47 214.16 180.70 215.01 178.19 C215.68 176.18 216.36 172.83 217.03 169.85 C217.96 165.75 218.89 161.45 219.82 156.95 C220.50 153.68 221.17 149.43 221.85 146.55 C222.56 143.49 223.28 140.58 224.00 139.15 C224.89 137.38 225.77 136.62 226.66 136.95 C227.72 137.35 228.77 139.44 229.83 141.35 C231.09 143.64 232.36 147.20 233.63 149.55 C235.27 152.60 236.92 155.34 238.57 157.55 C240.30 159.87 242.03 161.66 243.76 163.15 C245.83 164.93 247.90 166.14 249.97 167.35 C252.08 168.58 254.19 169.41 256.30 170.47 C258.37 171.51 260.44 172.83 262.51 173.63 C265.50 174.79 268.50 175.44 271.50 176.35" stroke="#000" stroke-width="1.74" stroke-dasharray="5.4 4.1"/>
</g>
<g clip-path="url(#c4)" fill="none" stroke-linejoin="round">
<path d="M315.50 176.35 C321.28 176.91 327.07 177.44 332.85 178.03 C334.25 178.17 335.64 178.35 337.03 178.55 C338.30 178.73 339.57 178.90 340.83 179.15 C342.31 179.44 343.79 179.75 345.27 180.15 C346.66 180.53 348.05 181.01 349.45 181.47 C350.46 181.81 351.47 182.14 352.49 182.55 C353.67 183.03 354.85 183.54 356.03 184.15 C357.17 184.74 358.31 185.34 359.45 186.15 C360.47 186.87 361.48 187.71 362.49 188.75 C363.30 189.57 364.10 190.62 364.90 191.75 C365.62 192.76 366.34 193.76 367.05 195.15 C367.81 196.62 368.57 198.66 369.33 200.35 C370.35 202.60 371.36 205.07 372.37 206.95 C372.80 207.73 373.22 208.76 373.64 208.35 C374.15 207.86 374.65 206.94 375.16 204.23 C375.62 201.74 376.09 196.97 376.55 192.75 C376.89 189.68 377.23 186.07 377.57 182.35 C377.78 180.03 377.99 176.32 378.20 174.63 C378.71 170.58 379.21 167.42 379.72 165.15 C380.40 162.13 381.07 160.08 381.75 158.75 C382.46 157.34 383.18 156.95 383.90 156.95 C384.91 156.95 385.93 158.02 386.94 158.75 C388.33 159.75 389.73 161.25 391.12 162.15 C393.23 163.52 395.34 164.66 397.45 165.55 C400.22 166.72 402.98 167.62 405.75 168.35 C409.66 169.38 413.56 170.11 417.47 170.85 C421.65 171.64 425.83 172.33 430.01 172.95 C434.19 173.57 438.37 174.10 442.55 174.59 C446.68 175.07 450.82 175.52 454.96 175.85 C459.14 176.18 463.32 176.55 467.50 176.55 C469.19 176.55 470.88 176.40 472.57 175.85 C473.45 175.56 474.34 175.11 475.23 174.03 C475.90 173.21 476.58 171.83 477.25 170.15 C478.31 167.53 479.36 164.69 480.42 161.15 C481.10 158.89 481.77 155.04 482.45 152.75 C483.16 150.31 483.88 148.46 484.60 146.95 C484.94 146.24 485.28 145.82 485.61 146.11 C486.33 146.73 487.05 148.03 487.77 149.67 C488.78 151.98 489.79 155.78 490.81 157.95 C492.20 160.94 493.59 163.43 494.99 165.15 C496.72 167.29 498.45 168.61 500.18 169.55 C502.63 170.88 505.08 171.39 507.53 171.95 C511.66 172.89 515.80 173.48 519.94 174.03 C524.12 174.59 528.30 174.86 532.48 175.27 C536.15 175.63 539.83 175.99 543.50 176.35" stroke="#1010ff" stroke-width="1.1"/>
<path d="M315.50 176.35 C321.28 175.64 327.07 174.87 332.85 174.23 C339.78 173.47 346.70 172.79 353.63 172.15 C357.81 171.76 361.99 171.41 366.17 171.15 C368.95 170.98 371.74 170.73 374.53 170.85 C376.26 170.93 377.99 170.78 379.72 171.75 C381.11 172.53 382.51 174.06 383.90 176.11 C384.91 177.60 385.93 180.38 386.94 182.35 C388.00 184.40 389.05 186.88 390.11 188.19 C391.29 189.66 392.47 190.45 393.65 190.67 C394.92 190.90 396.19 190.13 397.45 189.55 C399.52 188.61 401.59 187.08 403.66 186.11 C406.45 184.81 409.23 183.74 412.02 182.75 C414.81 181.76 417.59 180.80 420.38 180.15 C423.59 179.40 426.80 178.93 430.01 178.55 C434.19 178.06 438.37 177.82 442.55 177.55 C446.64 177.29 450.74 177.06 454.83 176.95 C458.21 176.86 461.59 176.85 464.97 176.95 C466.02 176.98 467.08 176.81 468.13 177.35 C468.98 177.78 469.82 178.43 470.67 179.85 C471.13 180.63 471.60 181.99 472.06 183.95 C472.78 186.99 473.50 191.22 474.21 194.85 C474.76 197.62 475.31 200.89 475.86 203.15 C476.11 204.19 476.37 205.00 476.62 204.75 C477.04 204.33 477.46 202.97 477.89 201.15 C478.39 198.97 478.90 194.69 479.41 192.75 C480.08 190.16 480.76 188.91 481.43 187.55 C482.15 186.11 482.87 185.11 483.59 184.35 C484.56 183.31 485.53 182.79 486.50 182.15 C487.43 181.54 488.36 180.99 489.29 180.59 C490.68 179.99 492.07 179.52 493.47 179.15 C494.99 178.75 496.51 178.43 498.03 178.27 C501.36 177.92 504.70 177.79 508.03 177.63 C513.52 177.36 519.01 177.19 524.50 176.99 C530.83 176.76 537.17 176.56 543.50 176.35" stroke="#ff1010" stroke-width="1.08" stroke-dasharray="4.9 4.6"/>
<path d="M315.50 176.35 C317.82 178.48 320.14 180.51 322.47 182.75 C324.54 184.74 326.60 187.01 328.67 189.03 C330.74 191.05 332.81 192.93 334.88 194.85 C336.99 196.81 339.10 198.78 341.21 200.67 C342.94 202.22 344.68 203.84 346.41 205.15 C347.80 206.20 349.19 207.07 350.59 207.75 C351.39 208.14 352.19 208.57 352.99 208.35 C353.92 208.10 354.85 207.74 355.78 206.35 C356.46 205.34 357.13 203.65 357.81 201.15 C358.36 199.12 358.90 196.06 359.45 192.75 C359.83 190.46 360.21 187.24 360.59 184.35 C360.93 181.78 361.27 179.18 361.61 176.35 C361.94 173.52 362.28 170.35 362.62 167.35 C363.17 162.48 363.72 156.92 364.27 152.75 C364.86 148.26 365.45 144.26 366.04 141.35 C366.55 138.86 367.05 136.55 367.56 136.55 C368.15 136.55 368.74 138.99 369.33 141.35 C370.09 144.39 370.85 149.31 371.61 152.75 C372.46 156.57 373.30 159.31 374.15 163.15 C374.74 165.84 375.33 169.55 375.92 172.35 C376.34 174.35 376.76 176.19 377.19 177.55 C377.69 179.18 378.20 179.98 378.71 181.31 C379.72 183.98 380.73 187.18 381.75 189.55 C382.80 192.02 383.86 194.15 384.91 195.85 C386.31 198.09 387.70 199.97 389.09 201.35 C390.49 202.73 391.88 203.50 393.27 204.15 C394.67 204.80 396.06 205.20 397.45 205.23 C398.85 205.26 400.24 205.08 401.63 204.35 C403.36 203.45 405.10 202.11 406.83 200.35 C408.56 198.59 410.29 196.41 412.02 193.81 C413.84 191.08 415.65 187.82 417.47 184.35 C418.52 182.33 419.58 179.14 420.63 177.35 C421.69 175.56 422.74 174.47 423.80 173.59 C425.24 172.40 426.67 171.88 428.11 171.15 C429.58 170.40 431.06 170.10 432.54 169.15 C434.19 168.10 435.83 166.88 437.48 165.15 C438.62 163.95 439.76 161.97 440.90 160.35 C442.25 158.43 443.60 156.50 444.95 154.55 C446.01 153.03 447.06 151.40 448.12 149.95 C449.18 148.50 450.23 147.02 451.29 145.85 C452.51 144.49 453.74 143.26 454.96 142.35 C455.76 141.76 456.56 141.58 457.37 141.35 C458.04 141.15 458.72 141.04 459.39 141.07 C460.20 141.11 461.00 141.28 461.80 141.55 C462.64 141.84 463.49 142.20 464.33 142.75 C465.39 143.43 466.44 144.13 467.50 145.23 C468.56 146.33 469.61 147.76 470.67 149.35 C471.68 150.87 472.69 152.65 473.71 154.55 C474.72 156.45 475.73 158.55 476.75 160.75 C477.55 162.49 478.35 164.21 479.15 166.35 C479.70 167.81 480.25 169.42 480.80 171.55 C481.35 173.68 481.90 176.61 482.45 179.15 C483.50 184.03 484.56 189.28 485.61 193.81 C486.67 198.34 487.72 202.34 488.78 206.35 C489.46 208.92 490.13 211.59 490.81 213.55 C491.19 214.65 491.57 216.03 491.95 215.55 C492.41 214.96 492.88 212.88 493.34 210.35 C493.89 207.36 494.44 202.96 494.99 198.99 C495.54 195.02 496.08 190.67 496.63 186.51 C497.18 182.35 497.73 178.18 498.28 174.03 C498.58 171.79 498.87 169.84 499.17 167.35 C499.63 163.44 500.10 157.86 500.56 154.85 C501.28 150.20 502.00 146.57 502.71 144.35 C503.64 141.47 504.57 140.59 505.50 139.55 C506.26 138.70 507.02 138.57 507.78 138.67 C509.09 138.84 510.40 139.33 511.71 140.35 C513.78 141.96 515.84 144.30 517.91 146.55 C519.98 148.80 522.05 151.44 524.12 153.85 C526.23 156.31 528.34 158.61 530.45 161.15 C531.26 162.11 532.06 163.42 532.86 164.35 C536.41 168.48 539.95 172.35 543.50 176.35" stroke="#000" stroke-width="1.74"/>
<path d="M315.50 176.35 C318.50 173.35 321.50 170.32 324.49 167.35 C327.28 164.59 330.07 161.92 332.85 159.15 C335.64 156.38 338.43 153.24 341.21 150.75 C343.28 148.90 345.35 147.38 347.42 146.11 C348.81 145.25 350.21 144.27 351.60 144.35 C352.66 144.41 353.71 144.83 354.77 146.55 C355.65 148.00 356.54 150.71 357.43 153.85 C358.10 156.24 358.78 159.71 359.45 163.15 C360.17 166.81 360.89 170.34 361.61 175.15 C361.94 177.41 362.28 182.77 362.62 184.35 C363.46 188.29 364.31 189.80 365.15 191.71 C366.17 194.00 367.18 196.78 368.19 196.95 C369.25 197.13 370.30 194.66 371.36 192.75 C372.42 190.84 373.47 188.23 374.53 185.47 C375.20 183.70 375.88 181.25 376.55 179.15 C377.10 177.44 377.65 175.35 378.20 174.03 C378.71 172.81 379.21 172.62 379.72 171.55 C381.11 168.60 382.51 164.84 383.90 161.95 C385.08 159.50 386.26 157.49 387.45 155.55 C388.50 153.82 389.56 152.50 390.61 150.95 C391.67 149.40 392.72 147.75 393.78 146.25 C394.84 144.75 395.89 143.23 396.95 141.95 C397.96 140.73 398.97 139.68 399.99 138.75 C400.75 138.05 401.51 137.48 402.27 137.07 C402.98 136.68 403.70 136.41 404.42 136.35 C405.05 136.30 405.69 136.51 406.32 136.75 C406.91 136.98 407.50 137.21 408.09 137.75 C408.81 138.41 409.53 139.28 410.25 140.35 C411.01 141.48 411.77 142.52 412.53 144.35 C413.54 146.79 414.55 149.95 415.57 153.15 C416.41 155.82 417.26 158.75 418.10 161.95 C418.94 165.15 419.79 168.69 420.63 172.35" stroke="#000" stroke-width="1.74" stroke-dasharray="5.4 4.1"/>
<path d="M420.63 172.35 C421.27 175.09 421.90 178.75 422.53 181.15 C422.96 182.75 423.38 183.58 423.80 184.35 C424.43 185.51 425.07 186.26 425.70 186.95 C426.29 187.59 426.88 188.35 427.47 188.35 C428.36 188.35 429.25 187.56 430.13 186.95 C431.19 186.23 432.24 185.05 433.30 184.35 C434.06 183.85 434.82 183.08 435.58 183.35 C436.30 183.61 437.02 184.79 437.73 185.95 C438.75 187.58 439.76 189.71 440.77 191.71 C442.84 195.80 444.91 200.63 446.98 204.23 C448.71 207.24 450.44 209.85 452.17 211.55 C453.61 212.96 455.04 213.55 456.48 213.55 C458.21 213.55 459.94 212.58 461.67 211.55 C463.40 210.52 465.14 209.44 466.87 207.35 C468.60 205.26 470.33 202.28 472.06 198.99 C473.45 196.34 474.85 192.90 476.24 189.55 C477.30 187.01 478.35 184.24 479.41 181.31 C480.08 179.44 480.76 177.76 481.43 175.15 C481.77 173.84 482.11 171.04 482.45 169.55 C483.16 166.38 483.88 163.69 484.60 161.15 C485.66 157.42 486.71 153.61 487.77 150.75 C488.78 148.01 489.79 145.95 490.81 144.35 C491.48 143.28 492.16 142.36 492.83 142.75 C493.42 143.09 494.02 143.90 494.61 146.55 C495.07 148.63 495.54 153.14 496.00 156.95 C496.38 160.07 496.76 163.93 497.14 167.35 C497.48 170.39 497.82 173.97 498.15 176.35" stroke="#000" stroke-width="1.74" stroke-dasharray="5.4 4.1" stroke-dashoffset="220.88"/>
<path d="M498.15 176.35 C498.83 181.11 499.50 185.94 500.18 188.75 C501.24 193.14 502.29 195.94 503.35 197.95 C504.74 200.61 506.13 201.58 507.53 202.75 C508.20 203.32 508.88 203.36 509.55 203.15 C510.95 202.72 512.34 201.80 513.73 200.83 C515.80 199.40 517.87 197.64 519.94 195.95 C521.33 194.81 522.73 193.50 524.12 192.35 C525.51 191.20 526.91 190.20 528.30 189.07 C529.61 188.01 530.92 186.88 532.23 185.79 C533.45 184.77 534.68 183.77 535.90 182.75 C537.17 181.69 538.43 180.62 539.70 179.55 C540.97 178.48 542.23 177.42 543.50 176.35" stroke="#000" stroke-width="1.74" stroke-dasharray="5.4 4.1" stroke-dashoffset="0"/>
</g>
<g font-family="'Liberation Sans', Arial, Helvetica, sans-serif" font-size="9.4" fill="#000" stroke="#000" stroke-width="0.22" opacity="0.999" style="will-change:opacity;text-rendering:geometricPrecision">
<text x="43.50" y="106.30" text-anchor="middle">0</text>
<text x="106.83" y="106.30" text-anchor="middle">50</text>
<text x="170.17" y="106.30" text-anchor="middle">100</text>
<text x="233.50" y="106.30" text-anchor="middle">150</text>
<text x="40.90" y="98.70" text-anchor="end">0</text>
<text x="40.90" y="78.50" text-anchor="end">500</text>
<text x="40.90" y="57.80" text-anchor="end">1000</text>
<text x="40.90" y="37.40" text-anchor="end">1500</text>
<text x="315.50" y="106.30" text-anchor="middle">0</text>
<text x="378.83" y="106.30" text-anchor="middle">50</text>
<text x="442.17" y="106.30" text-anchor="middle">100</text>
<text x="505.50" y="106.30" text-anchor="middle">150</text>
<text x="312.90" y="98.50" text-anchor="end">−1</text>
<text x="312.90" y="78.50" text-anchor="end">−0.5</text>
<text x="312.90" y="58.50" text-anchor="end">0</text>
<text x="312.90" y="38.50" text-anchor="end">0.5</text>
<text x="312.90" y="18.50" text-anchor="end">1</text>
<text x="43.50" y="228.10" text-anchor="middle">0</text>
<text x="106.83" y="228.10" text-anchor="middle">50</text>
<text x="170.17" y="228.10" text-anchor="middle">100</text>
<text x="233.50" y="228.10" text-anchor="middle">150</text>
<text x="40.90" y="219.90" text-anchor="end">−1</text>
<text x="40.90" y="199.90" text-anchor="end">−0.5</text>
<text x="40.90" y="179.90" text-anchor="end">0</text>
<text x="40.90" y="159.90" text-anchor="end">0.5</text>
<text x="40.90" y="139.90" text-anchor="end">1</text>
<text x="315.50" y="228.10" text-anchor="middle">0</text>
<text x="378.83" y="228.10" text-anchor="middle">50</text>
<text x="442.17" y="228.10" text-anchor="middle">100</text>
<text x="505.50" y="228.10" text-anchor="middle">150</text>
<text x="312.90" y="220.00" text-anchor="end">−1</text>
<text x="312.90" y="200.00" text-anchor="end">−0.5</text>
<text x="312.90" y="180.00" text-anchor="end">0</text>
<text x="312.90" y="160.00" text-anchor="end">0.5</text>
<text x="312.90" y="140.00" text-anchor="end">1</text>
<text x="157.70" y="6.90" text-anchor="middle" font-size="9.55">Unpolarized DCS</text>
<text x="429.70" y="6.90" text-anchor="middle" font-size="9.55">T parameter</text>
<text x="157.70" y="128.90" text-anchor="middle" font-size="9.55">S parameter</text>
<text x="429.70" y="128.90" text-anchor="middle" font-size="9.55">U parameter</text>
<text x="157.50" y="237.90" text-anchor="middle" font-size="9.55"><tspan stroke="none" fill="#1a1a1a">θ</tspan>/deg</text>
<text x="429.50" y="237.90" text-anchor="middle" font-size="9.55"><tspan stroke="none" fill="#1a1a1a">θ</tspan>/deg</text>
<g transform="translate(10,63.3) rotate(-90)" font-size="9.5"><text x="-0.8" y="0">[</text><text x="5" y="0" font-style="italic">a</text><text x="10.3" y="5" font-size="6.4">0</text><text x="10.3" y="-6.5" font-size="6.4">2</text><text x="14.5" y="0">]</text></g>
</g>
</svg>
</body></html>
